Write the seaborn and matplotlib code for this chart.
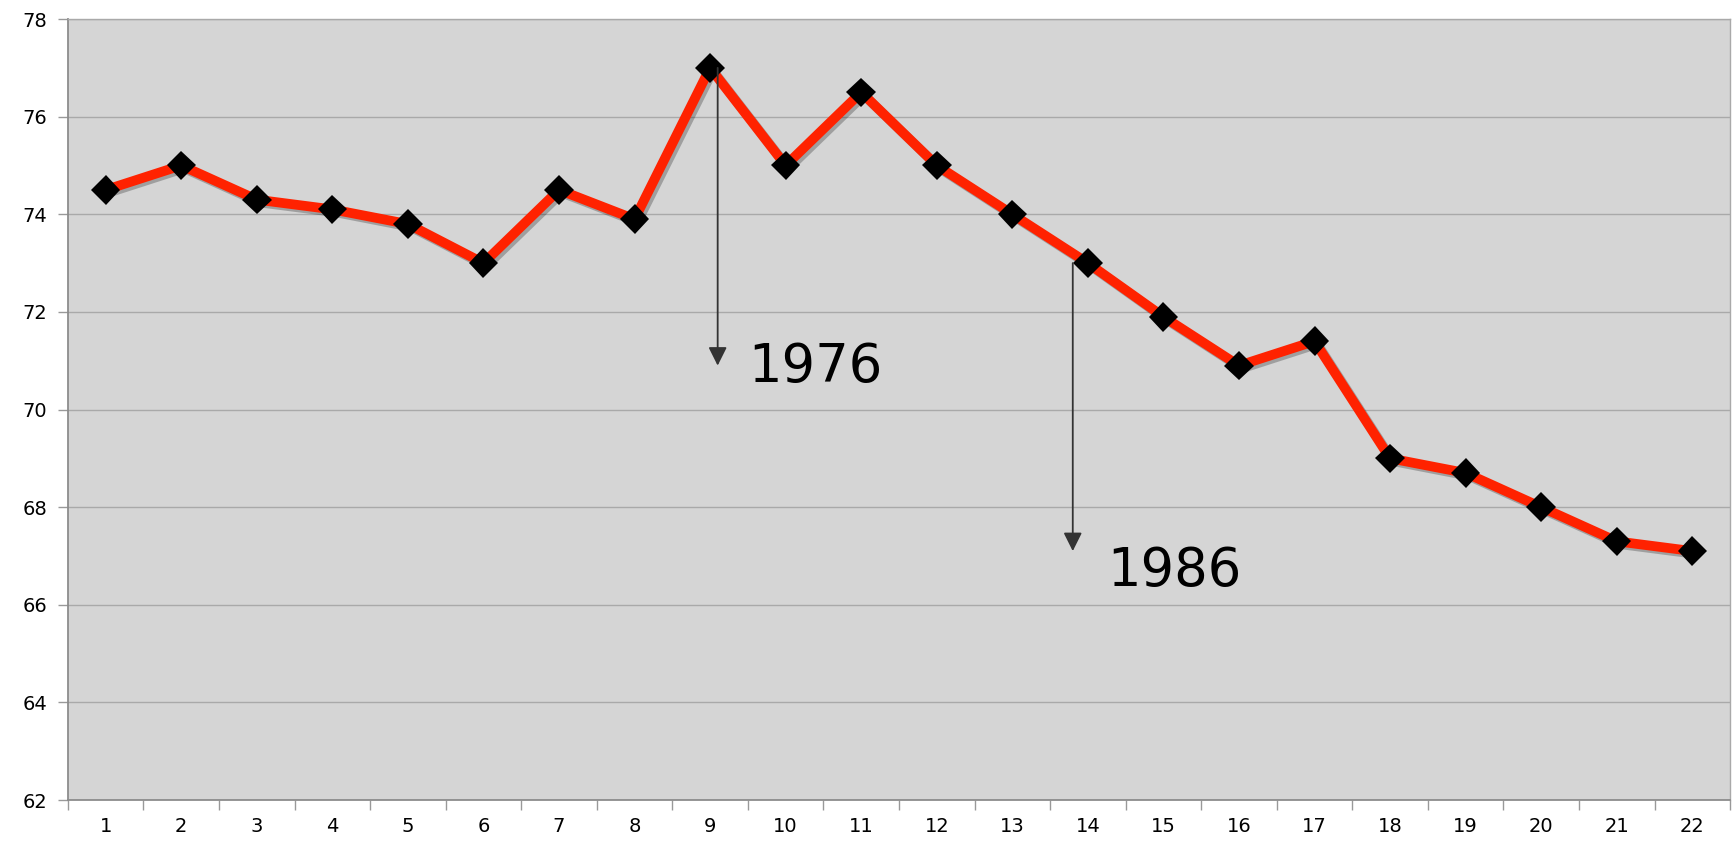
import numpy as np
import pandas as pd
import seaborn as sns
import matplotlib.pyplot as plt
import matplotlib.patheffects as pe

# ---------------------- Data ------------------------
periods = list(range(1, 23))
values = [74.5, 75.0, 74.3, 74.1, 73.8, 73.0, 74.5, 73.9, 77.0, 75.0, 76.5,
          75.0, 74.0, 73.0, 71.9, 70.9, 71.4, 69.0, 68.7, 68.0, 67.3, 67.1]
y_ticks = [62, 64, 66, 68, 70, 72, 74, 76, 78]

# annotations: label, x of arrow, arrow start y, arrow end y, text x, text baseline y
notes = [("1976", 9.1, 77.0, 70.9, 9.5, 70.56),
         ("1986", 13.8, 73.0, 67.1, 14.25, 66.38)]

df = pd.DataFrame({"period": periods, "value": values})

# ---------------------- Style -----------------------
sns.set_style("white")
plt.rcParams["font.family"] = ["DejaVu Sans"]

fig = plt.figure(figsize=(17.33, 8.5), dpi=100)
ax = fig.add_axes([0.0392, 0.0588, 0.9591, 0.9188])
ax.set_facecolor("#d5d5d5")

sns.lineplot(data=df, x="period", y="value", ax=ax, color="#ff2200",
             linewidth=7, marker="D", markersize=15, markerfacecolor="black",
             markeredgecolor="black", markeredgewidth=0, zorder=3,
             path_effects=[pe.SimpleLineShadow(offset=(2, -2), alpha=0.25),
                           pe.Normal()])

# ---------------------- Axes -----------------------
ax.set_xlim(0.5, 22.5)
ax.set_ylim(62, 78)
ax.set_yticks(y_ticks)
ax.set_xticks(periods)
ax.set_xticks(np.arange(0.5, 23, 1), minor=True)
ax.tick_params(axis="x", which="major", bottom=False, length=0, labelsize=14,
               labelcolor="black", pad=12)
ax.tick_params(axis="x", which="minor", bottom=True, length=7, width=1,
               color="#999999", direction="out")
ax.tick_params(axis="y", left=True, length=7, width=1, color="#999999",
               labelsize=14, labelcolor="black", direction="out", pad=8)
ax.set_xlabel("")
ax.set_ylabel("")
ax.grid(axis="y", color="#a9a9a9", linewidth=1)
ax.set_axisbelow(True)
for side in ["left", "bottom"]:
    ax.spines[side].set_color("#8c8c8c")
    ax.spines[side].set_linewidth(1.3)
for side in ["top", "right"]:
    ax.spines[side].set_color("#a9a9a9")
    ax.spines[side].set_linewidth(1)

# ---------------------- Annotations -----------------------
for label, x, y0, y1, tx, ty in notes:
    ax.annotate("", xy=(x, y1), xytext=(x, y0),
                arrowprops=dict(arrowstyle="-|>", color="#333333", lw=1.3,
                                mutation_scale=28, shrinkA=0, shrinkB=0),
                zorder=4)
    ax.text(tx, ty, label, fontsize=38, color="black",
            ha="left", va="baseline", zorder=4)

fig.savefig("out.png", dpi=100)
